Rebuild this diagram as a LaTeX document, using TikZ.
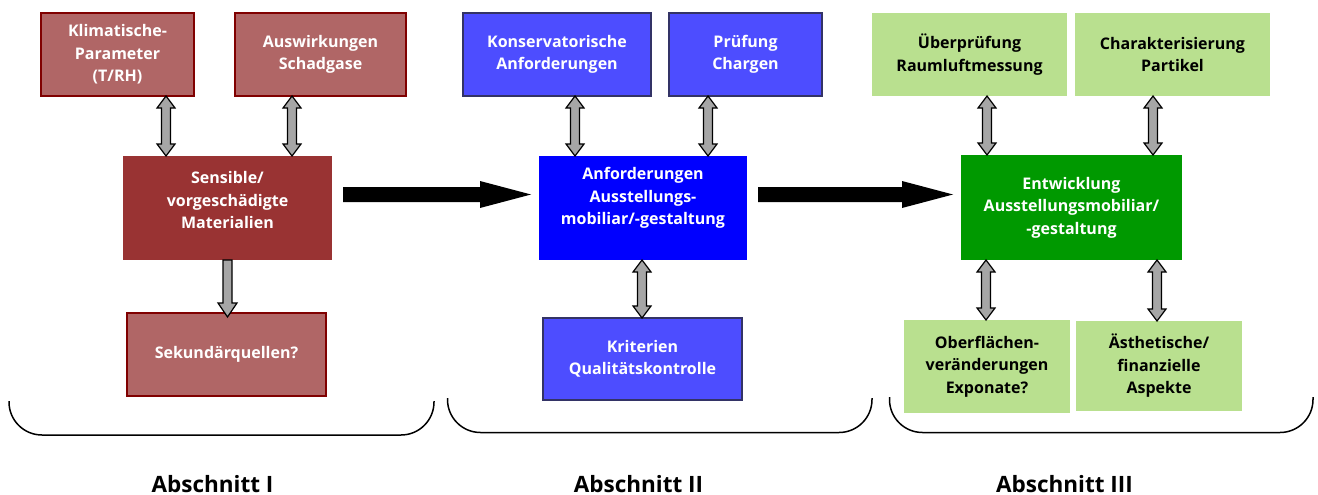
\documentclass[tikz,border=0pt]{standalone}
\usepackage{fontspec}
\setmainfont{Open Sans}
\usetikzlibrary{calc}
\definecolor{redL}{HTML}{B06666}
\definecolor{redB}{HTML}{800000}
\definecolor{redD}{HTML}{993333}
\definecolor{bluL}{HTML}{4D4DFF}
\definecolor{bluB}{HTML}{333366}
\definecolor{bluD}{HTML}{0000FF}
\definecolor{grnL}{HTML}{B9E08F}
\definecolor{grnD}{HTML}{009900}
\definecolor{arrgray}{HTML}{A6A6A6}
\newcommand\dblarr[3]{%
 \path[dblar] let \p1=(#1.south -| #3,0), \p2=(#2.north -| #3,0) in
 (\x1,\y1) -- ({\x1+9pt},{\y1-12pt}) -- ({\x1+4.5pt},{\y1-12pt}) -- ({\x1+4.5pt},{\y2+12pt}) -- ({\x1+9pt},{\y2+12pt}) -- (\x1,\y2) -- ({\x1-9pt},{\y2+12pt}) -- ({\x1-4.5pt},{\y2+12pt}) -- ({\x1-4.5pt},{\y1-12pt}) -- ({\x1-9pt},{\y1-12pt}) -- cycle;}
\newcommand\downarr[3]{%
 \path[dblar] let \p1=(#1.south -| #3,0), \p2=(#2.north -| #3,0) in
 ({\x1-4.5pt},\y1) -- ({\x1+4.5pt},\y1) -- ({\x1+4.5pt},{\y2+10pt}) -- ({\x1+9.5pt},{\y2+10pt}) -- (\x1,{\y2-4pt}) -- ({\x1-9.5pt},{\y2+10pt}) -- ({\x1-4.5pt},{\y2+10pt}) -- cycle;}
\newcommand\fatarr[2]{%
 \path[fill=black] let \p1=($(#1.east)+(11,-13.5)$), \p2=($(#2.west)+(-8,-13.5)$) in
 (\x1,{\y1+7.5pt}) -- ({\x2-51pt},{\y1+7.5pt}) -- ({\x2-51pt},{\y1+13.5pt}) -- (\x2,\y1) -- ({\x2-51pt},{\y1-13.5pt}) -- ({\x2-51pt},{\y1-7.5pt}) -- (\x1,{\y1-7.5pt}) -- cycle;}
\begin{document}
\begin{tikzpicture}[x=1pt,y=-1pt,
  box/.style={rectangle,outer sep=0pt,inner sep=2pt,align=center,font=\fontsize{16}{22.5}\selectfont\bfseries},
  redlight/.style={box,fill=redL,draw=redB,line width=1.8pt,text=white},
  reddark/.style={box,fill=redD,text=white},
  blulight/.style={box,fill=bluL,draw=bluB,line width=1.4pt,text=white},
  bludark/.style={box,fill=bluD,text=white},
  grnlight/.style={box,fill=grnL,text=black},
  grndark/.style={box,fill=grnD,text=white},
  lbl/.style={align=center,font=\fontsize{16}{22.5}\selectfont\bfseries,text=white,inner sep=0pt},
  dblar/.style={fill=arrgray,draw=black,line width=1.2pt,line join=miter},
  brace/.style={draw=black,line width=1.5pt,rounded corners=33pt},
  sect/.style={font=\fontsize{22.5}{26}\selectfont\bfseries,text=black,anchor=base}]
\useasboundingbox (0,0) rectangle (1318,495);
% Section I
\node[redlight,minimum width=153,minimum height=83] (klima) at (117.5,54.5) {Klimatische-\\Parameter\\(T/RH)};
\node[redlight,minimum width=171,minimum height=83] (ausw) at (320.5,54.5) {Auswirkungen\\Schadgase};
\node[reddark,minimum width=209,minimum height=104] (sens) at (227.5,208) {};
\node[lbl] (senst) at (227.5,200) {Sensible/\\vorgeschädigte\\Materialien};
\node[redlight,minimum width=199,minimum height=83] (sek) at (226.5,354.5) {Sekundärquellen?};
% Section II
\node[blulight,minimum width=188,minimum height=83] (kons) at (557,54.5) {Konservatorische\\Anforderungen};
\node[blulight,minimum width=153,minimum height=83] (pruef) at (745.5,54.5) {Prüfung\\Chargen};
\node[bludark,minimum width=208,minimum height=104] (anf) at (643,208) {};
\node[lbl] (anft) at (643,198) {Anforderungen\\Ausstellungs-\\mobiliar/-gestaltung};
\node[blulight,minimum width=199,minimum height=82] (krit) at (642.5,359) {Kriterien\\Qualitätskontrolle};
% Section III
\node[grnlight,minimum width=195,minimum height=83] (ueber) at (969.5,54.5) {Überprüfung\\Raumluftmessung};
\node[grnlight,minimum width=195,minimum height=83] (char) at (1172.5,54.5) {Charakterisierung\\Partikel};
\node[grndark,minimum width=221,minimum height=105] (entw) at (1071.5,207.5) {Entwicklung\\Ausstellungsmobiliar/\\-gestaltung};
\node[grnlight,minimum width=166,minimum height=93] (ober) at (987,366.5) {Oberflächen-\\veränderungen\\Exponate?};
\node[grnlight,minimum width=166,minimum height=90] (aesth) at (1159,366) {Ästhetische/\\finanzielle\\Aspekte};
% arrows
\dblarr{klima}{sens}{166}
\dblarr{ausw}{sens}{292}
\downarr{sens}{sek}{227.5}
\dblarr{kons}{anf}{575}
\dblarr{pruef}{anf}{708}
\dblarr{anf}{krit}{642}
\dblarr{ueber}{entw}{987}
\dblarr{char}{entw}{1153}
\dblarr{entw}{ober}{986}
\dblarr{entw}{aesth}{1157}
\fatarr{sens}{anf}
\fatarr{anf}{entw}
% braces
\draw[brace] (9,401) -- (9,435) -- (434,435) -- (434,401);
\draw[brace] (447.5,398) -- (447.5,432.5) -- (872,432.5) -- (872,398);
\draw[brace] (889.5,397) -- (889.5,432.5) -- (1313,432.5) -- (1313,397);
% labels
\node[sect] (s1) at (212.5,492) {Abschnitt I};
\node[sect] (s2) at (638.5,492) {Abschnitt II};
\node[sect] (s3) at (1064.5,492) {Abschnitt III};
\end{tikzpicture}
\end{document}
